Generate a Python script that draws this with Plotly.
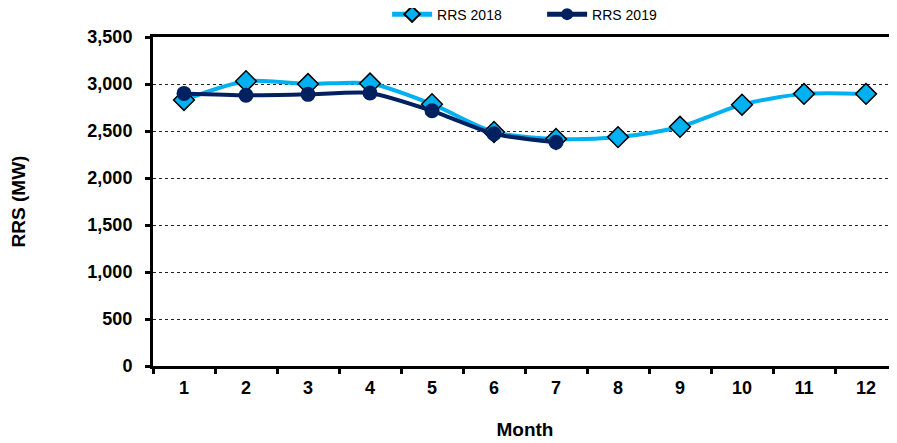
import plotly.graph_objects as go

months = [str(m) for m in range(1, 13)]
rrs_2018 = [2830, 3030, 3000, 3005, 2785, 2490, 2415, 2435, 2545, 2780, 2895, 2895]
rrs_2019 = [2900, 2880, 2890, 2905, 2715, 2470, 2380]

FONT = "Liberation Sans, Arial, sans-serif"

fig = go.Figure()
fig.add_trace(go.Scatter(
    x=months, y=rrs_2018, name="RRS 2018", mode="lines+markers",
    line=dict(color="#00B0F0", width=4, shape="spline", smoothing=0.8),
    marker=dict(symbol="diamond", size=16, color="#00B0F0",
                line=dict(color="black", width=1.5)),
))
fig.add_trace(go.Scatter(
    x=months[:len(rrs_2019)], y=rrs_2019, name="RRS 2019", mode="lines+markers",
    line=dict(color="#002060", width=4, shape="spline", smoothing=0.6),
    marker=dict(symbol="circle", size=15, color="#002060"),
))

# page body has an 8px margin, so the figure is offset to compensate
fig.update_layout(
    width=897, height=435,
    paper_bgcolor="white", plot_bgcolor="white",
    font=dict(family=FONT, color="black", size=13),
    margin=dict(l=145, r=8, t=29, b=77, autoexpand=False),
    legend=dict(orientation="h", x=0.523, xanchor="center",
                yref="container", y=0.985, yanchor="middle",
                font=dict(size=14, family=FONT), itemsizing="constant",
                itemwidth=40, entrywidth=100, bgcolor="rgba(0,0,0,0)"),
    xaxis=dict(
        type="category", range=[-0.5, 11.5], tickson="boundaries",
        showline=True, linecolor="black", linewidth=3, mirror=True,
        ticks="outside", ticklen=5, tickwidth=3, tickcolor="black",
        showgrid=False, automargin=False, ticklabelstandoff=3,
        tickfont=dict(size=18, family=FONT, weight="bold"),
        title=dict(text="Month", font=dict(size=19, family=FONT, weight="bold"), standoff=27),
    ),
    yaxis=dict(
        range=[0, 3500], dtick=500, tickformat=",",
        showline=True, linecolor="black", linewidth=3,
        ticks="outside", ticklen=5, tickwidth=3, tickcolor="black",
        showgrid=True, gridcolor="#222", gridwidth=1, griddash="dot",
        zeroline=False, automargin=False, ticklabelstandoff=9,
        tickfont=dict(size=18, family=FONT, weight="bold"),
        title=dict(text="RRS (MW)", font=dict(size=19, family=FONT, weight="bold"), standoff=61),
    ),
)

fig.write_html("out.html", config={"responsive": False})
